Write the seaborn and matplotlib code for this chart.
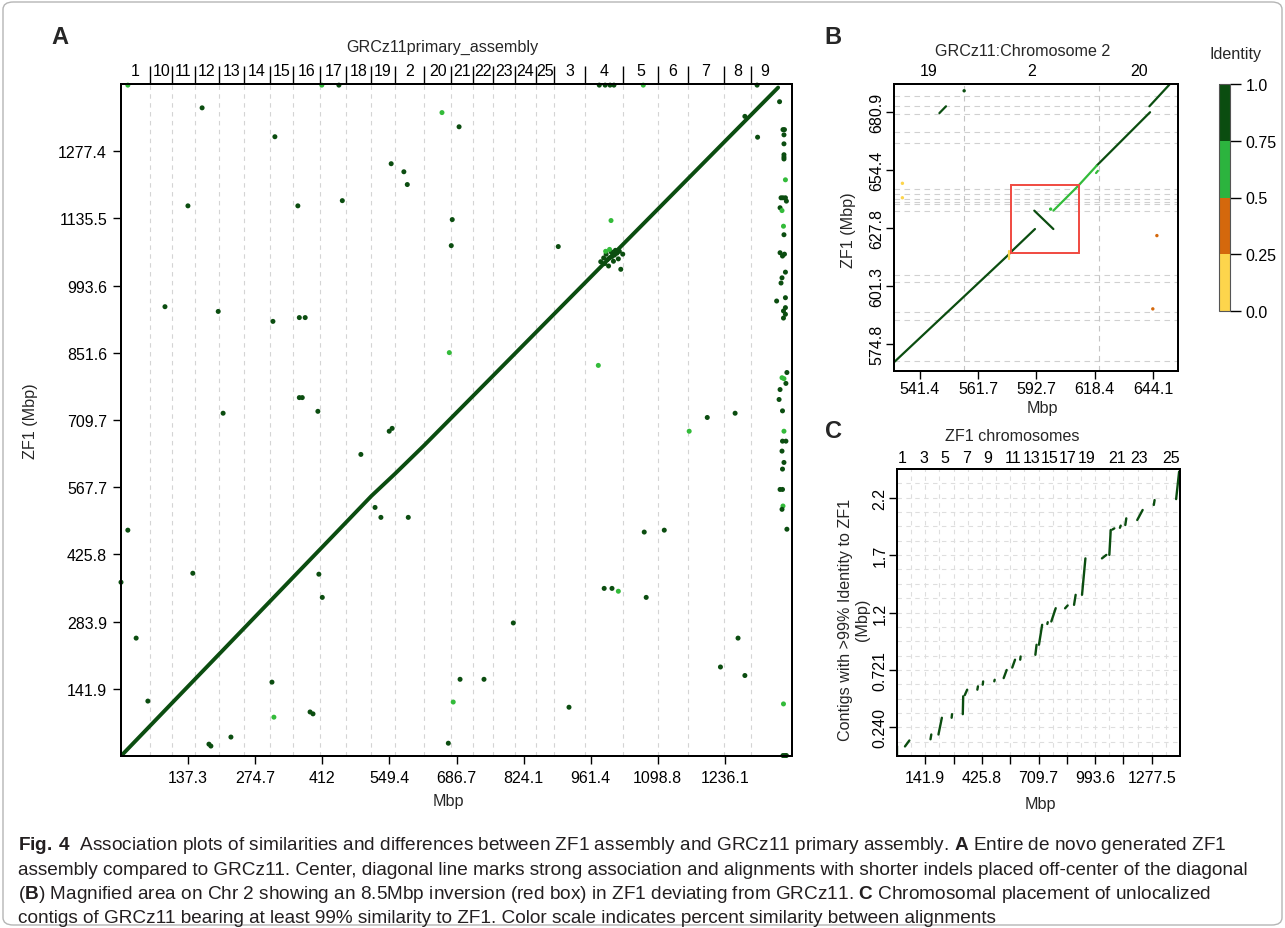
import numpy as np
import pandas as pd
import matplotlib
matplotlib.use("Agg")
import matplotlib.pyplot as plt
import seaborn as sns
from matplotlib import font_manager
from matplotlib.colors import ListedColormap, BoundaryNorm
from matplotlib.cm import ScalarMappable
from matplotlib.patches import FancyBboxPatch, Rectangle

# ---------------- datos ----------------
# cromosomas GRCz11 (orden lexicográfico) y longitudes (Mbp)
chrom_names = ['1', '10', '11', '12', '13', '14', '15', '16', '17', '18', '19', '2', '20',
               '21', '22', '23', '24', '25', '3', '4', '5', '6', '7', '8', '9']
grcz11_len = [59.58, 45.42, 45.48, 49.18, 52.19, 52.66, 48.04, 55.27, 53.46, 51.02, 48.45, 59.64, 55.2,
              45.93, 39.13, 46.22, 42.17, 37.5, 62.63, 78.09, 72.5, 60.27, 74.28, 54.3, 56.46]
zf1_len = [63.8, 48.7, 48.7, 52.7, 55.9, 56.4, 51.5, 59.2, 57.3, 54.8, 47.0, 60.0, 57.6,
           47.9, 40.8, 48.2, 44.0, 39.1, 65.3, 81.5, 75.6, 62.9, 77.5, 56.6, 58.9]

# panel A: ejes
a_xticks = [137.345, 274.69, 412.035, 549.38, 686.725, 824.07, 961.415, 1098.76, 1236.105]
a_xlabels = ['137.3', '274.7', '412', '549.4', '686.7', '824.1', '961.4', '1098.8', '1236.1']
a_yticks = [141.94, 283.87, 425.81, 567.75, 709.69, 851.62, 993.56, 1135.5, 1277.43]
a_ylabels = ['141.9', '283.9', '425.8', '567.7', '709.7', '851.6', '993.6', '1135.5', '1277.4']
a_xmax, a_ymax = 1373.45, 1419.37

# panel A: alineamientos fuera de la diagonal
a_dot_x = [166, 315, 692, 657, 553, 579, 586, 362, 137, 453, 678, 676, 1003, 895,
           90, 199, 311, 365, 377, 672, 977, 365, 371, 403, 209, 549, 555, 1163, 1200,
           1257, 491, 520, 532, 588, 14, 1112, 1071, 147, 405, 412, 989, 1005, 1018, 0,
           1075, 31, 803, 55, 917, 309, 313, 387, 393, 694, 743, 680, 1227, 1277, 1263,
           180, 184, 225, 670, 1303, 1277]
a_dot_y = [1369, 1308, 1329, 1359, 1251, 1234, 1207, 1162, 1162, 1173, 1133, 1078, 1131, 1076,
           949, 939, 918, 926, 926, 852, 825, 757, 757, 728, 724, 686, 692, 686, 715,
           724, 637, 525, 504, 504, 477, 477, 473, 386, 384, 335, 354, 354, 348, 367,
           335, 249, 281, 116, 103, 156, 82, 93, 89, 162, 162, 114, 188, 170, 249,
           25, 21, 40, 27, 1307, 1351]
a_dot_id = ['d', 'd', 'd', 'l', 'd', 'd', 'd', 'd', 'd', 'd', 'd', 'd', 'l', 'd',
            'd', 'd', 'd', 'd', 'd', 'l', 'l', 'd', 'd', 'd', 'd', 'd', 'd', 'l', 'd',
            'd', 'd', 'd', 'd', 'd', 'd', 'd', 'd', 'd', 'd', 'd', 'd', 'd', 'l', 'd',
            'd', 'd', 'd', 'd', 'd', 'd', 'l', 'd', 'd', 'd', 'd', 'l', 'd', 'd', 'd',
            'd', 'd', 'd', 'd', 'd', 'd']

# panel A: puntos sobre el borde superior
a_top_x = [14, 411, 446, 979, 991, 1001, 1009, 1069, 1302]
a_top_y = [1417, 1417, 1417, 1417, 1417, 1417, 1417, 1417, 1417]
a_top_id = ['l', 'l', 'd', 'd', 'd', 'd', 'd', 'l', 'd']

# panel A: grupo en cromosoma 4
a_clu_x = [990, 995, 1000, 1005, 1010, 1015, 1020, 993, 1008, 998, 1012, 1018, 1003, 988, 992, 1000, 1023, 982, 1027]
a_clu_y = [1040, 1048, 1052, 1055, 1058, 1062, 1066, 1060, 1045, 1035, 1068, 1050, 1065, 1052, 1066, 1070, 1028, 1044, 1060]
a_clu_id = ['d'] * 14 + ['l', 'l', 'd', 'd', 'd']

# panel A: contigs no ubicados (columna derecha)
a_un_x = [1348, 1355, 1358, 1357, 1357, 1357, 1357, 1357, 1360, 1351, 1355, 1360, 1362, 1349, 1353,
          1356, 1357, 1349, 1354, 1358, 1360, 1353, 1351, 1342, 1360, 1360, 1356, 1360, 1356,
          1363, 1353, 1357, 1361, 1349, 1347, 1354, 1357, 1354, 1361, 1353, 1357, 1354, 1349,
          1354, 1355, 1353, 1363, 1356, 1355, 1359, 1362]
a_un_y = [1382, 1323, 1323, 1312, 1293, 1270, 1265, 1261, 1217, 1179, 1179, 1179, 1172, 1158, 1152,
          1119, 1101, 1063, 1056, 1060, 1022, 1010, 999, 961, 968, 947, 940, 933, 925,
          810, 799, 797, 787, 774, 753, 729, 686, 665, 665, 644, 620, 606, 563,
          563, 528, 521, 479, 110, 1, 1, 1]
a_un_id = ['d', 'd', 'd', 'd', 'd', 'd', 'd', 'd', 'l', 'd', 'd', 'd', 'd', 'd', 'l',
           'l', 'd', 'd', 'd', 'd', 'd', 'd', 'd', 'd', 'd', 'd', 'd', 'd', 'd',
           'd', 'l', 'l', 'd', 'd', 'd', 'd', 'l', 'd', 'd', 'd', 'd', 'd', 'd',
           'd', 'l', 'd', 'd', 'l', 'd', 'd', 'd']

# panel B: cromosoma 2 ampliado
b_xticks = [541.4, 567.075, 592.75, 618.425, 644.1]
b_xlabels = ['541.4', '561.7', '592.7', '618.4', '644.1']
b_yticks = [574.8, 601.3, 627.8, 654.4, 680.9]
b_ylabels = ['574.8', '601.3', '627.8', '654.4', '680.9']
b_xlim = (530.0, 655.1)
b_ylim = (562.5, 693.7)
b_top_chroms = ['19', '2', '20']
b_hlines = [567.1, 585.6, 589.3, 603.4, 606.6, 635.8, 639.0, 639.9, 641.2, 643.5, 645.8,
            666.8, 671.8, 680.0, 683.6, 688.2]
b_seg_x0 = [530.0, 580.8, 581.4, 591.8, 600.2, 611.2, 619.3, 642.5, 550.0, 619.0]
b_seg_x1 = [580.8, 580.8, 592.1, 600.2, 611.2, 619.3, 642.8, 651.3, 552.9, 619.8]
b_seg_y0 = [566.5, 613.7, 616.8, 635.8, 635.8, 647.2, 656.4, 683.5, 680.4, 653.0]
b_seg_y1 = [616.0, 617.5, 627.4, 627.4, 647.2, 656.4, 680.8, 693.4, 683.5, 654.0]
b_seg_id = ['d', 'y', 'd', 'd', 'l', 'l', 'd', 'd', 'd', 'l']
b_dot_x = [560.9, 533.7, 533.7, 645.8, 644.0, 599.0]
b_dot_y = [690.6, 648.3, 641.7, 624.4, 590.9, 636.5]
b_dot_id = ['d', 'y', 'y', 'o', 'o', 'l']
inv_box = [581.4, 611.4, 616.5, 647.7]

# panel C: contigs no localizados
c_xticks = [141.94, 283.88, 425.82, 567.76, 709.7, 851.64, 993.58, 1135.52, 1277.46]
c_xlabels = ['141.9', '', '425.8', '', '709.7', '', '993.6', '', '1277.5']
c_yticks = [0.2402, 0.7206, 1.201, 1.6814, 2.1618]
c_ylabels = ['0.240', '0.721', '1.2', '1.7', '2.2']
c_top_pos = [25, 135, 240, 350, 455, 580, 675, 765, 855, 950, 1105, 1215, 1375]
c_top_names = ['1', '3', '5', '7', '9', '11', '13', '15', '17', '19', '21', '23', '25']
c_x0 = [2, 40, 168, 208, 274, 330, 340, 403, 430, 488, 535, 578, 618, 694, 712, 754, 774,
        843, 888, 928, 1028, 1065, 1080, 1118, 1145, 1205, 1288, 1400]
c_x1 = [2, 62, 172, 225, 276, 332, 352, 406, 432, 490, 550, 592, 620, 700, 728, 756, 796,
        856, 896, 945, 1050, 1072, 1090, 1122, 1150, 1232, 1292, 1415]
c_y0 = [0.0, 0.08, 0.14, 0.18, 0.32, 0.35, 0.51, 0.555, 0.597, 0.625, 0.652, 0.74, 0.806, 0.847,
        0.931, 1.105, 1.126, 1.236, 1.265, 1.349, 1.654, 1.683, 1.895, 1.91, 1.933, 1.975, 2.101, 2.15]
c_y1 = [0.08, 0.13, 0.18, 0.32, 0.35, 0.50, 0.555, 0.583, 0.624, 0.638, 0.72, 0.806, 0.833, 0.931,
        1.098, 1.12, 1.237, 1.26, 1.349, 1.654, 1.683, 1.892, 1.905, 1.928, 1.989, 2.059, 2.142, 2.38]

# escala de identidad
ident_bounds = [0.0, 0.25, 0.5, 0.75, 1.0]
ident_labels = ['0.0', '0.25', '0.5', '0.75', '1.0']

DARK, LIGHT, ORANGE, YELLOW = '#0b4d10', '#33bb3a', '#d4680c', '#fdd54c'
pal = {'d': DARK, 'l': LIGHT, 'o': ORANGE, 'y': YELLOW}

# ---------------- estilo ----------------
sns.set_style("ticks")
plt.rcParams['font.family'] = ['Liberation Sans', 'DejaVu Sans']
plt.rcParams['axes.edgecolor'] = 'black'
plt.rcParams['axes.linewidth'] = 1.4
plt.rcParams['xtick.color'] = 'black'
plt.rcParams['ytick.color'] = 'black'
TS = 11.5

W, H = 1285, 929
fig = plt.figure(figsize=(W / 100, H / 100), dpi=100)
fig.patch.set_facecolor('white')


def rect(l, t, r, b):
    return [l / W, 1 - b / H, (r - l) / W, (b - t) / H]


def ftext(x, y, s, **kw):
    kw.setdefault('ha', 'center')
    kw.setdefault('va', 'center')
    kw.setdefault('fontsize', 11.6)
    return fig.text(x / W, 1 - y / H, s, **kw)


def seg_frame(x0, x1, y0, y1, ids):
    rows = []
    for i in range(len(x0)):
        rows.append((i, x0[i], y0[i], ids[i]))
        rows.append((i, x1[i], y1[i], ids[i]))
    return pd.DataFrame(rows, columns=['seg', 'x', 'y', 'ident'])


gr_cum = np.concatenate([[0], np.cumsum(grcz11_len)])
zf_cum = np.concatenate([[0], np.cumsum(zf1_len)])

# ---------------- panel A ----------------
axA = fig.add_axes(rect(121, 85, 792, 757))
axA.vlines(gr_cum[1:-1], 0, a_ymax, colors='#d4d4d4', linestyles=(0, (4, 4)), lw=0.8, zorder=0)
sns.lineplot(x=gr_cum, y=zf_cum, sort=False, estimator=None, color=DARK, lw=2.8, ax=axA)
dfA = pd.DataFrame({'x': a_dot_x + a_clu_x + a_un_x + a_top_x,
                    'y': a_dot_y + a_clu_y + a_un_y + a_top_y,
                    'ident': a_dot_id + a_clu_id + a_un_id + a_top_id})
sns.scatterplot(data=dfA, x='x', y='y', hue='ident', palette=pal, s=13, linewidth=0,
                legend=False, ax=axA, clip_on=False, zorder=3)
axA.set_xlim(0, a_xmax)
axA.set_ylim(0, a_ymax)
axA.set_xticks(a_xticks, a_xlabels)
axA.set_yticks(a_yticks, a_ylabels)
axA.set_xlabel('')
axA.set_ylabel('')
axA.tick_params(length=6, width=1, labelsize=TS, pad=4)
for s in axA.spines.values():
    s.set_visible(True)

axAT = axA.twiny()
axAT.set_xlim(0, a_xmax)
axAT.set_xticks(gr_cum[1:-1], [''] * (len(gr_cum) - 2))
centers = (gr_cum[:-1] + gr_cum[1:]) / 2
axAT.set_xticks(centers, chrom_names, minor=True)
axAT.tick_params(axis='x', which='major', length=13, width=1)
axAT.tick_params(axis='x', which='minor', length=0, pad=4, labelsize=TS)

ftext(442, 47, 'GRCz11primary_assembly')
ftext(448, 802, 'Mbp')
ftext(30, 421, 'ZF1 (Mbp)', rotation=90)

# ---------------- panel B ----------------
axB = fig.add_axes(rect(894, 85, 1178, 372))
axB.hlines(b_hlines, b_xlim[0], b_xlim[1], colors='#d0d0d0', linestyles=(0, (5, 4)), lw=0.8, zorder=0)
b_vl = [v for v in gr_cum if b_xlim[0] < v < b_xlim[1]]
axB.vlines(b_vl, b_ylim[0], b_ylim[1], colors='#c4c4c4', linestyles=(0, (5, 4)), lw=0.8, zorder=0)
dfB = seg_frame(b_seg_x0, b_seg_x1, b_seg_y0, b_seg_y1, b_seg_id)
sns.lineplot(data=dfB, x='x', y='y', units='seg', hue='ident', palette=pal, estimator=None,
             sort=False, lw=1.6, legend=False, ax=axB)
dfBd = pd.DataFrame({'x': b_dot_x, 'y': b_dot_y, 'ident': b_dot_id})
sns.scatterplot(data=dfBd, x='x', y='y', hue='ident', palette=pal, s=6, linewidth=0,
                legend=False, ax=axB)
axB.add_patch(Rectangle((inv_box[0], inv_box[2]), inv_box[1] - inv_box[0], inv_box[3] - inv_box[2],
                        fill=False, ec='#f04a40', lw=1.4, zorder=4))
axB.set_xlim(*b_xlim)
axB.set_ylim(*b_ylim)
axB.set_xticks(b_xticks, b_xlabels)
axB.set_yticks(b_yticks, b_ylabels)
axB.set_xlabel('')
axB.set_ylabel('')
axB.tick_params(length=6, width=1, labelsize=TS, pad=1)
axB.tick_params(axis='y', labelrotation=90)
for lab in axB.get_yticklabels():
    lab.set_va('center')
axBT = axB.twiny()
axBT.set_xlim(*b_xlim)
b_idx = [chrom_names.index(c) for c in b_top_chroms]
b_cen = [(max(gr_cum[i], b_xlim[0]) + min(gr_cum[i + 1], b_xlim[1])) / 2 for i in b_idx]
axBT.set_xticks(b_cen, b_top_chroms)
axBT.tick_params(axis='x', length=0, pad=4, labelsize=TS)

ftext(1023, 52, 'GRCz11:Chromosome 2')
ftext(1042, 408, 'Mbp')
ftext(848, 230, 'ZF1 (Mbp)', rotation=90)

# barra de color
cax = fig.add_axes(rect(1219, 85, 1230, 312))
cmap = ListedColormap([YELLOW, ORANGE, '#2cb43e', DARK])
norm = BoundaryNorm(ident_bounds, cmap.N)
cb = fig.colorbar(ScalarMappable(norm=norm, cmap=cmap), cax=cax, ticks=ident_bounds)
cb.set_ticklabels(ident_labels)
cb.outline.set_edgecolor('#555555')
cb.outline.set_linewidth(0.8)
cax.tick_params(length=8, width=1, labelsize=TS, pad=3)
ftext(1236, 55, 'Identity')

# ---------------- panel C ----------------
axC = fig.add_axes(rect(897, 470, 1180, 757))
c_xmax, c_ymax = 1419.4, 2.402
axC.vlines(np.arange(1, 20) * 70.97, 0, c_ymax, colors='#dedede', linestyles=(0, (4, 4)), lw=0.8, zorder=0)
axC.hlines(np.arange(1, 20) * 0.1201, 0, c_xmax, colors='#dedede', linestyles=(0, (4, 4)), lw=0.8, zorder=0)
dfC = seg_frame(c_x0, c_x1, c_y0, c_y1, ['d'] * len(c_x0))
sns.lineplot(data=dfC, x='x', y='y', units='seg', hue='ident', palette=pal, estimator=None,
             sort=False, lw=1.7, legend=False, ax=axC)
axC.set_xlim(0, c_xmax)
axC.set_ylim(0, c_ymax)
axC.set_xticks(c_xticks, c_xlabels)
axC.set_yticks(c_yticks, c_ylabels)
axC.set_xlabel('')
axC.set_ylabel('')
axC.tick_params(length=6, width=1, labelsize=TS, pad=4)
axC.tick_params(axis='y', labelrotation=90, pad=1)
for lab in axC.get_yticklabels():
    lab.set_va('center')
axCT = axC.twiny()
axCT.set_xlim(0, c_xmax)
axCT.set_xticks(c_top_pos, c_top_names)
axCT.tick_params(axis='x', length=0, pad=3, labelsize=TS)

ftext(1012, 437, 'ZF1 chromosomes')
ftext(1040, 805, 'Mbp')
ftext(854, 620, 'Contigs with >99% Identity to ZF1\n(Mbp)', rotation=90, linespacing=1.1)

# letras de panel
ftext(60, 38, 'A', fontsize=17, fontweight='bold')
ftext(833, 37, 'B', fontsize=17, fontweight='bold')
ftext(834, 432, 'C', fontsize=17, fontweight='bold')

# ---------------- pie de figura ----------------
installed = {f.name for f in font_manager.fontManager.ttflist}
cap_family = 'Liberation Sans Narrow' if 'Liberation Sans Narrow' in installed else 'Liberation Sans'
cap_size = 15.5 if cap_family == 'Liberation Sans Narrow' else 13.7
plt.rcParams['mathtext.fontset'] = 'custom'
plt.rcParams['mathtext.rm'] = cap_family
plt.rcParams['mathtext.bf'] = cap_family + ':bold'

cap_lines = [
    r"$\mathbf{Fig.\,4}$  Association plots of similarities and differences between ZF1 assembly and GRCz11 primary assembly. $\mathbf{A}$ Entire de novo generated ZF1",
    "assembly compared to GRCz11. Center, diagonal line marks strong association and alignments with shorter indels placed off-center of the diagonal",
    r"($\mathbf{B}$) Magnified area on Chr 2 showing an 8.5Mbp inversion (red box) in ZF1 deviating from GRCz11. $\mathbf{C}$ Chromosomal placement of unlocalized",
    "contigs of GRCz11 bearing at least 99% similarity to ZF1. Color scale indicates percent similarity between alignments",
]
cap_y = [846, 871, 895, 919]
for line, y in zip(cap_lines, cap_y):
    ftext(18, y, line, ha='left', fontsize=cap_size, family=cap_family, color='#231f20')

fig.patches.append(FancyBboxPatch((3 / W, 3 / H), 1279 / W, 923 / H,
                                  boxstyle='round,pad=0,rounding_size=0.008',
                                  transform=fig.transFigure, fill=False,
                                  ec='#b5b5b5', lw=1.0))

fig.savefig('out.png', dpi=100, facecolor='white')
